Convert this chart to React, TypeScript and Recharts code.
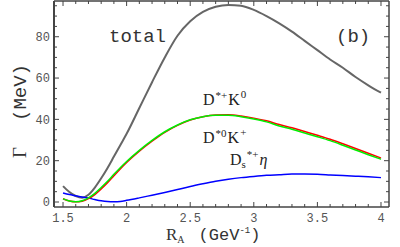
import { Line, LineChart, ReferenceLine, XAxis, YAxis } from "recharts";

const rA = [
  1.5, 1.55, 1.6, 1.65, 1.7, 1.75, 1.8, 1.85, 1.9, 1.95, 2.0, 2.1, 2.2, 2.3,
  2.4, 2.5, 2.6, 2.7, 2.8, 2.9, 3.0, 3.1, 3.2, 3.3, 3.4, 3.5, 3.6, 3.7, 3.8,
  3.9, 4.0,
];

const total = [
  7.7, 4.8, 2.9, 2.1, 3.5, 7, 11.5, 16.5, 22, 27.5, 33, 45.5, 58, 70, 80.5,
  87.5, 92, 94.5, 95.4, 95, 93, 90, 86.5, 82.5, 78, 73.5, 69, 65, 60.5, 56.5,
  52.9,
];

const dPlusK0 = [
  1.6, 0.5, 0.1, 0.4, 1.6, 3.6, 6.3, 9.3, 12.7, 16.0, 19.1, 24.6, 29.4, 33.7,
  37.1, 39.7, 41.3, 42.1, 42.2, 41.6, 40.6, 39.3, 37.5, 35.9, 34.1, 32.3, 30.4,
  28.2, 25.9, 23.6, 21.3,
];

const d0KPlus = [
  1.5, 0.5, 0.15, 0.6, 2, 4.2, 7, 10, 13.4, 16.6, 19.6, 25.0, 29.8, 34.0, 37.3,
  39.8, 41.3, 42, 42, 41.3, 40.2, 38.8, 36.8, 35.2, 33.4, 31.6, 29.7, 27.5,
  25.2, 22.9, 20.7,
];

const dsEta = [
  4.4, 3.6, 3, 2.4, 1.9, 1.2, 0.6, 0.25, 0.15, 0.3, 0.8, 2, 3.3, 4.6, 6, 7.5,
  8.8, 10, 11, 11.8, 12.4, 12.9, 13.2, 13.5, 13.5, 13.4, 13.1, 12.8, 12.5,
  12.2, 11.8,
];

const xMajor = [1.5, 2, 2.5, 3, 3.5, 4];
const xMinor = [
  1.6, 1.7, 1.8, 1.9, 2.1, 2.2, 2.3, 2.4, 2.6, 2.7, 2.8, 2.9, 3.1, 3.2, 3.3,
  3.4, 3.6, 3.7, 3.8, 3.9,
];
const yMajor = [0, 20, 40, 60, 80];
const yMinor = [5, 10, 15, 25, 30, 35, 45, 50, 55, 65, 70, 75, 85, 90, 95];

const xDomain = [1.429, 4.063];
const yDomain = [-2.42, 97.3];

const data = rA.map((x, i) => ({
  x,
  total: total[i],
  dPlusK0: dPlusK0[i],
  d0KPlus: d0KPlus[i],
  dsEta: dsEta[i],
}));

const xTicks = [...xMajor, ...xMinor];
const yTicks = [...yMajor, ...yMinor];

const W = 400;
const H = 247;
const MARGIN = { top: 1, right: 11, bottom: 0, left: 0 };
const PLOT_TOP = MARGIN.top;
const PLOT_RIGHT = W - MARGIN.right;

const frame = "#444";
const mono = "'Liberation Mono', 'Courier New', monospace";
const serif = "'Liberation Serif', 'Times New Roman', serif";
const MAJOR = 5;
const MINOR = 3;
const LABEL_GAP = 6;

// bottom axis tick: inward tick on bottom + matching tick on top frame
function BottomTick({ x, y, payload }: any) {
  const major = xMajor.includes(payload.value);
  const len = major ? MAJOR : MINOR;
  const y0 = y - LABEL_GAP;
  return (
    <g>
      <line x1={x} x2={x} y1={y0} y2={y0 - len} stroke={frame} />
      <line x1={x} x2={x} y1={PLOT_TOP} y2={PLOT_TOP + len} stroke={frame} />
      {major && (
        <text x={x} y={y} dy="0.71em" textAnchor="middle" fill="#555"
          fontSize={12} fontFamily={mono}>
          {payload.value}
        </text>
      )}
    </g>
  );
}

// left axis tick: inward tick on left + matching tick on right frame
function LeftTick({ x, y, payload }: any) {
  const major = yMajor.includes(payload.value);
  const len = major ? MAJOR : MINOR;
  const x0 = x + 4;
  return (
    <g>
      <line x1={x0} x2={x0 + len} y1={y} y2={y} stroke={frame} />
      <line x1={PLOT_RIGHT} x2={PLOT_RIGHT - len} y1={y} y2={y} stroke={frame} />
      {major && (
        <text x={x} y={y} dy="0.355em" textAnchor="end" fill="#555"
          fontSize={12} fontFamily={mono}>
          {payload.value}
        </text>
      )}
    </g>
  );
}

export default function App() {
  return (
    <div style={{ position: "absolute", left: 0, top: 0 }}>
      <LineChart width={W} height={H} data={data} margin={MARGIN}>
        <XAxis
          dataKey="x"
          type="number"
          domain={xDomain}
          allowDataOverflow
          ticks={xTicks}
          interval={0}
          height={40}
          tickLine={false}
          tickSize={0}
          tickMargin={LABEL_GAP}
          axisLine={{ stroke: frame, strokeWidth: 1.5 }}
          tick={<BottomTick />}
        />
        <YAxis
          type="number"
          domain={yDomain}
          allowDataOverflow
          ticks={yTicks}
          interval={0}
          width={54}
          tickLine={false}
          tickSize={0}
          tickMargin={4}
          axisLine={{ stroke: frame, strokeWidth: 2 }}
          tick={<LeftTick />}
        />

        <ReferenceLine y={yDomain[1]} stroke={frame} strokeWidth={1.5} />
        <ReferenceLine x={xDomain[1]} stroke={frame} strokeWidth={1.5} />

        <Line type="monotone" dataKey="total" stroke="#666" strokeWidth={2}
          dot={false} isAnimationActive={false} />
        <Line type="monotone" dataKey="dsEta" stroke="#0000ff" strokeWidth={1.5}
          dot={false} isAnimationActive={false} />
        <Line type="monotone" dataKey="dPlusK0" stroke="#ff0000" strokeWidth={1.5}
          dot={false} isAnimationActive={false} />
        <Line type="monotone" dataKey="d0KPlus" stroke="#00ee00" strokeWidth={1.5}
          dot={false} isAnimationActive={false} />

        {/* annotations */}
        <text x={109} y={42} fontFamily={mono} fontSize={19} fill="#333">total</text>
        <text x={336} y={42} fontFamily={mono} fontSize={19} fill="#333">(b)</text>

        <text x={203} y={105} fontFamily={serif} fontSize={16} fill="#222">
          D<tspan fontSize={11} dx={1} dy={-6}>*+</tspan>
          <tspan fontSize={16} dx={1} dy={6}>K</tspan>
          <tspan fontSize={11} dx={1} dy={-7}>0</tspan>
        </text>
        <text x={203} y={143} fontFamily={serif} fontSize={16} fill="#222">
          D<tspan fontSize={11} dx={1} dy={-6}>*0</tspan>
          <tspan fontSize={16} dx={1} dy={6}>K</tspan>
          <tspan fontSize={11} dx={1} dy={-7}>+</tspan>
        </text>
        <text x={230} y={165} fontFamily={serif} fontSize={16} fill="#222">
          D<tspan fontSize={11} dy={3}>s</tspan>
          <tspan fontSize={11} dx={1} dy={-10}>*+</tspan>
          <tspan fontSize={16} dx={1} dy={7} fontStyle="italic">η</tspan>
        </text>

        <text transform="translate(26,158) rotate(-90)" fill="#333">
          <tspan fontFamily={serif} fontSize={19}>Γ</tspan>
          <tspan fontFamily={mono} fontSize={19} dx={26}>(MeV)</tspan>
        </text>

        <text x={166} y={240} fill="#333">
          <tspan fontFamily={serif} fontSize={17}>R</tspan>
          <tspan fontFamily={serif} fontSize={10} dy={3}>A</tspan>
          <tspan fontFamily={mono} fontSize={17} dx={14} dy={-3}>(GeV</tspan>
          <tspan fontFamily={mono} fontSize={9} dy={-7}>-1</tspan>
          <tspan fontFamily={mono} fontSize={17} dy={7}>)</tspan>
        </text>
      </LineChart>
    </div>
  );
}
